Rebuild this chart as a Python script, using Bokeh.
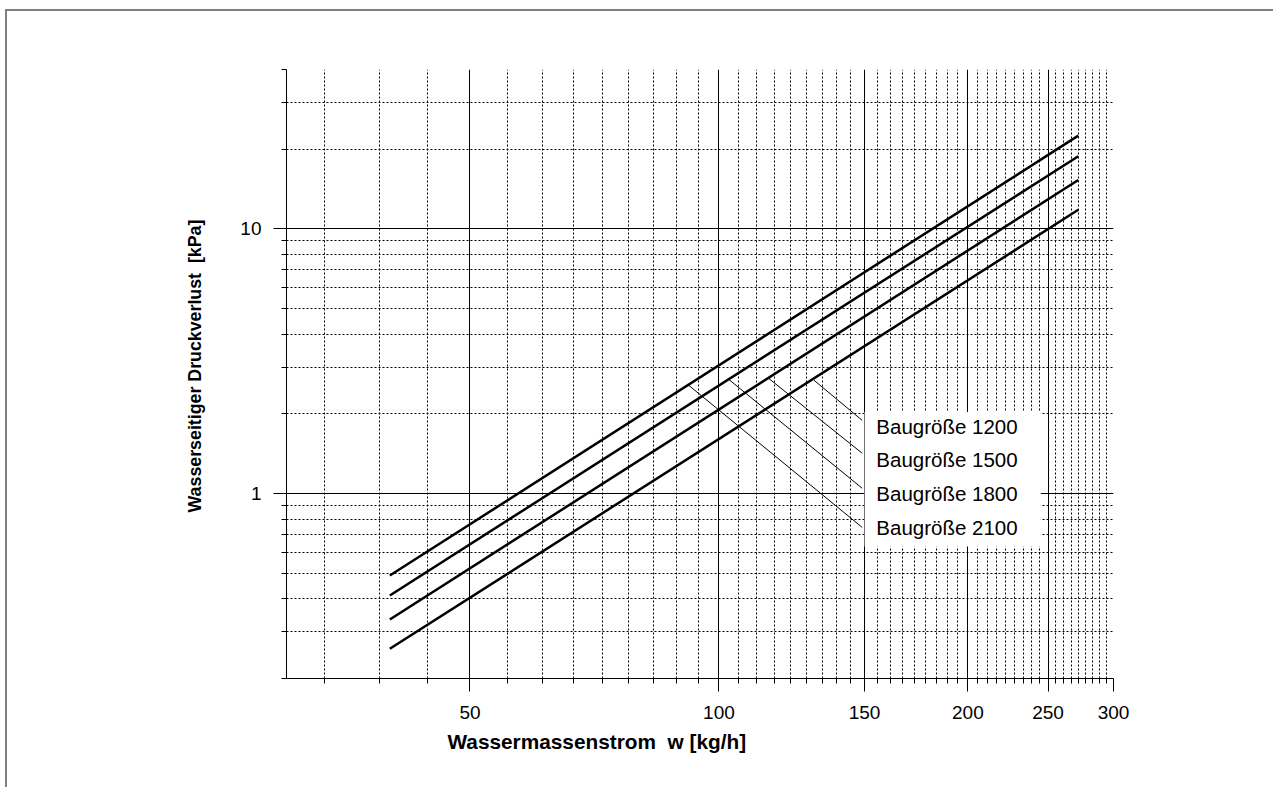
from bokeh.plotting import figure
from bokeh.models import FixedTicker, Title
from bokeh.embed import file_html
from bokeh.resources import INLINE
from bokeh.core.properties import value

# ---------------- data ----------------
w_kgh = [40, 272]                      # water mass flow, start / end of each curve
dp_2100 = [0.490, 22.5]                # kPa
dp_1800 = [0.412, 18.8]
dp_1500 = [0.334, 15.3]
dp_1200 = [0.259, 11.8]

label_text = ["Baugröße 1200", "Baugröße 1500", "Baugröße 1800", "Baugröße 2100"]
label_w = [155, 155, 155, 155]
label_dp = [1.794, 1.345, 1.0, 0.743]

leader_start_w = [130.3, 114.9, 102.6, 91.7]
leader_start_dp = [2.68, 2.72, 2.71, 2.58]
leader_end_w = [149, 149, 149, 149]
leader_end_dp = [1.89, 1.42, 1.047, 0.745]

box_w = [150, 245]
box_dp = [0.63, 2.03]

x_major = [50, 100, 150, 200, 250, 300]
x_grid_major = [50, 100, 150, 200, 250]
y_major = [1, 10]
y_minor_ticks = [0.2, 0.3, 0.4, 0.5, 0.6, 0.7, 0.8, 0.9, 2, 3, 4, 5, 6, 7, 8, 9, 20, 30, 40]
y_minor_grid = [0.3, 0.4, 0.5, 0.6, 0.7, 0.8, 0.9, 2, 3, 4, 5, 6, 7, 8, 9, 20, 30]
# x minor grid: 8 subdivisions between each labelled value (step 50/9)
x_minor = [round(50 * i / 9, 4) for i in range(6, 54) if i % 9 != 0]

x_title = "Wassermassenstrom \u00a0w [kg/h]"
y_title = "Wasserseitiger Druckverlust \u00a0[kPa]"

FONT = "Liberation Sans"

p = figure(width=1268, height=778, x_axis_type="log", y_axis_type="log",
           x_range=(30, 300), y_range=(0.2, 40),
           output_backend="svg", toolbar_location=None,
           min_border_left=279, min_border_right=162,
           min_border_top=58, min_border_bottom=111)
p.styles = {"margin-left": "5px", "margin-top": "9px",
            "border-left": "2px solid #808080", "border-top": "2px solid #808080"}
p.outline_line_color = None
p.background_fill_color = "white"
p.border_fill_color = "white"

# axes
p.xaxis.ticker = FixedTicker(ticks=x_major, minor_ticks=x_minor)
p.yaxis.ticker = FixedTicker(ticks=y_major, minor_ticks=y_minor_ticks)
p.xaxis.major_label_overrides = {v: str(v) for v in x_major}
p.yaxis.major_label_overrides = {1: "1", 10: "10"}
for ax in (p.xaxis, p.yaxis):
    ax.axis_line_color = "black"
    ax.axis_line_width = 1
    ax.major_tick_line_color = "black"
    ax.minor_tick_line_color = "black"
    ax.major_tick_out = 13
    ax.major_tick_in = 0
    ax.minor_tick_out = 5
    ax.minor_tick_in = 0
    ax.major_label_text_font = FONT
    ax.major_label_text_font_size = "19px"
    ax.major_label_text_color = "black"
p.xaxis.major_label_standoff = 14
p.yaxis.major_label_standoff = 12

# grids
xg = p.xgrid[0]
yg = p.ygrid[0]
xg.ticker = FixedTicker(ticks=x_grid_major, minor_ticks=x_minor)
yg.ticker = FixedTicker(ticks=y_major, minor_ticks=y_minor_grid)
for g in (xg, yg):
    g.grid_line_color = "black"
    g.grid_line_width = 1
    g.minor_grid_line_color = "black"
    g.minor_grid_line_width = 1
    g.minor_grid_line_dash = "2 2"

# white label box
p.quad(left=[box_w[0]], right=[box_w[1]], bottom=[box_dp[0]], top=[box_dp[1]],
       fill_color="white", line_color=None)

# curves
for dp in (dp_2100, dp_1800, dp_1500, dp_1200):
    p.line(w_kgh, dp, line_color="black", line_width=2.5)

# leader lines
p.segment(x0=leader_start_w, y0=leader_start_dp, x1=leader_end_w, y1=leader_end_dp,
          line_color="black", line_width=1)

# labels
p.text(x=label_w, y=label_dp, text=label_text, text_font=value(FONT),
       text_font_size="20.5px", text_color="black",
       text_align="left", text_baseline="middle")

# axis titles
p.add_layout(Title(text=x_title, align="left", offset=161, standoff=12,
                   text_font=FONT, text_font_style="bold", text_font_size="20.8px",
                   text_color="black"), "below")
p.add_layout(Title(text=y_title, align="left", offset=166, standoff=66,
                   text_font=FONT, text_font_style="bold", text_font_size="17.8px",
                   text_color="black"), "left")

open("out.html", "w").write(file_html(p, INLINE))
